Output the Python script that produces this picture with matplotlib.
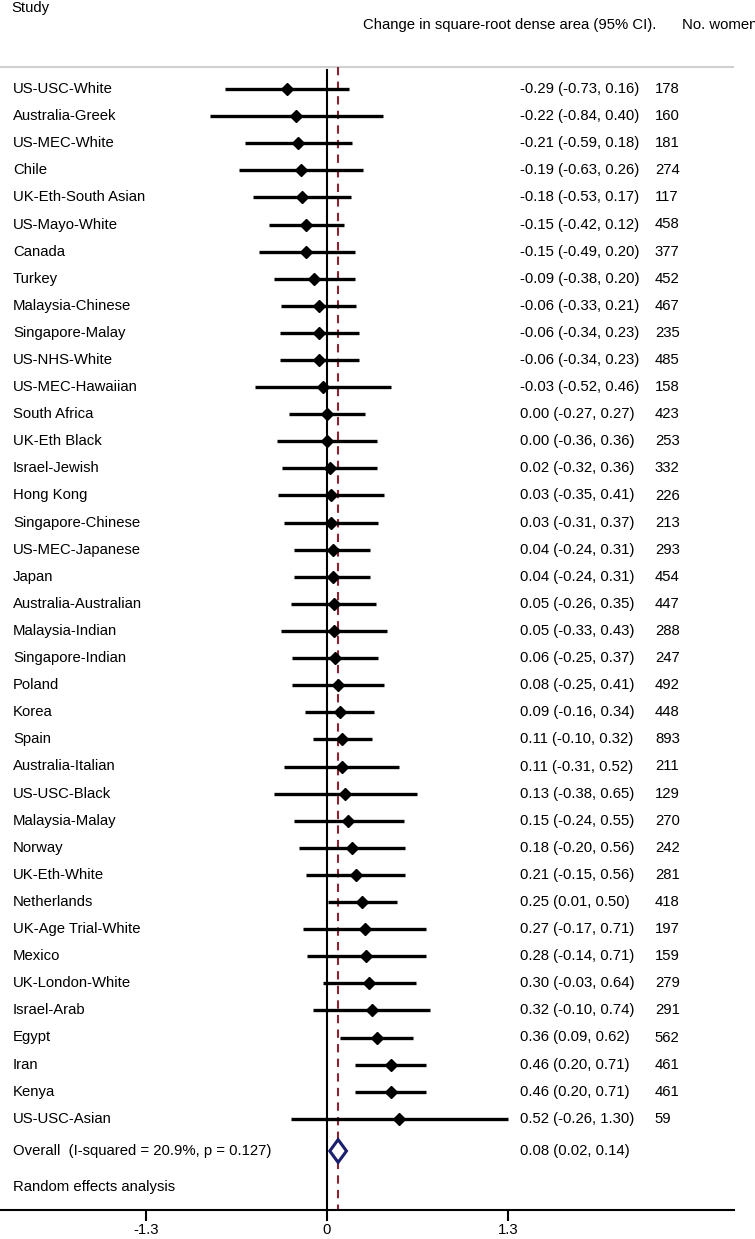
import matplotlib
matplotlib.use("Agg")
import matplotlib.pyplot as plt
from matplotlib.patches import Polygon

plt.rcParams['font.family'] = ['Liberation Sans', 'DejaVu Sans']

studies = ["US-USC-White", "Australia-Greek", "US-MEC-White", "Chile", "UK-Eth-South Asian",
           "US-Mayo-White", "Canada", "Turkey", "Malaysia-Chinese", "Singapore-Malay",
           "US-NHS-White", "US-MEC-Hawaiian", "South Africa", "UK-Eth Black", "Israel-Jewish",
           "Hong Kong", "Singapore-Chinese", "US-MEC-Japanese", "Japan", "Australia-Australian",
           "Malaysia-Indian", "Singapore-Indian", "Poland", "Korea", "Spain",
           "Australia-Italian", "US-USC-Black", "Malaysia-Malay", "Norway", "UK-Eth-White",
           "Netherlands", "UK-Age Trial-White", "Mexico", "UK-London-White", "Israel-Arab",
           "Egypt", "Iran", "Kenya", "US-USC-Asian"]
est = [-0.29, -0.22, -0.21, -0.19, -0.18, -0.15, -0.15, -0.09, -0.06, -0.06,
       -0.06, -0.03, 0.00, 0.00, 0.02, 0.03, 0.03, 0.04, 0.04, 0.05,
       0.05, 0.06, 0.08, 0.09, 0.11, 0.11, 0.13, 0.15, 0.18, 0.21,
       0.25, 0.27, 0.28, 0.30, 0.32, 0.36, 0.46, 0.46, 0.52]
lower = [-0.73, -0.84, -0.59, -0.63, -0.53, -0.42, -0.49, -0.38, -0.33, -0.34,
         -0.34, -0.52, -0.27, -0.36, -0.32, -0.35, -0.31, -0.24, -0.24, -0.26,
         -0.33, -0.25, -0.25, -0.16, -0.10, -0.31, -0.38, -0.24, -0.20, -0.15,
         0.01, -0.17, -0.14, -0.03, -0.10, 0.09, 0.20, 0.20, -0.26]
upper = [0.16, 0.40, 0.18, 0.26, 0.17, 0.12, 0.20, 0.20, 0.21, 0.23,
         0.23, 0.46, 0.27, 0.36, 0.36, 0.41, 0.37, 0.31, 0.31, 0.35,
         0.43, 0.37, 0.41, 0.34, 0.32, 0.52, 0.65, 0.55, 0.56, 0.56,
         0.50, 0.71, 0.71, 0.64, 0.74, 0.62, 0.71, 0.71, 1.30]
n_women = [178, 160, 181, 274, 117, 458, 377, 452, 467, 235,
           485, 158, 423, 253, 332, 226, 213, 293, 454, 447,
           288, 247, 492, 448, 893, 211, 129, 270, 242, 281,
           418, 197, 159, 279, 291, 562, 461, 461, 59]
overall_est, overall_lo, overall_hi = 0.08, 0.02, 0.14
overall_label = "Overall  (I-squared = 20.9%, p = 0.127)"
xticks = [-1.3, 0, 1.3]
xticklabels = ["-1.3", "0", "1.3"]

FS = 10.75
W, H = 755, 1239
fig = plt.figure(figsize=(W / 100, H / 100), dpi=100)
ax_top_px, ax_bot_px = 0, 1210
ax = fig.add_axes([0, 1 - ax_bot_px / H, 734 / W, (ax_bot_px - ax_top_px) / H])

row_px = 27.1
first_px = 89
ylo = (ax_bot_px - first_px) / row_px
yhi = (ax_top_px - first_px) / row_px
ax.set_ylim(ylo, yhi)
xmin, xmax = -2.349, 2.924
ax.set_xlim(xmin, xmax)

y_gray = (67 - first_px) / row_px
y_overall = (1151 - first_px) / row_px
y_random = (1187 - first_px) / row_px

# top gray line
ax.axhline(y_gray, color='#d0d0d0', lw=1.5)
# reference lines
ax.plot([0, 0], [y_gray + 0.1, ylo], color='black', lw=1.5, zorder=2)
ax.plot([overall_est, overall_est], [y_gray, ylo], color='#8b2330', lw=1.5,
        ls=(0, (4, 3)), zorder=2)

x_lab = xmin + 0.093
x_est_col = 1.386
x_n_col = 2.356
for i, s in enumerate(studies):
    ax.plot([lower[i], upper[i]], [i, i], color='black', lw=2.4, solid_capstyle='butt', zorder=3)
    ax.plot(est[i], i, marker='D', color='black', ms=6, zorder=4)
    ax.text(x_lab, i, s, va='center', ha='left', fontsize=FS)
    ax.text(x_est_col, i, f"{est[i]:.2f} ({lower[i]:.2f}, {upper[i]:.2f})",
            va='center', ha='left', fontsize=FS)
    ax.text(x_n_col, i, f"{n_women[i]}", va='center', ha='left', fontsize=FS)

dh = 0.42
diamond = Polygon([[overall_lo, y_overall], [overall_est, y_overall - dh],
                   [overall_hi, y_overall], [overall_est, y_overall + dh]],
                  closed=True, facecolor='white', edgecolor='#1a1f6e', lw=2.2, zorder=5)
ax.add_patch(diamond)
ax.text(x_lab, y_overall, overall_label, va='center', ha='left', fontsize=FS)
ax.text(x_est_col, y_overall, f"{overall_est:.2f} ({overall_lo:.2f}, {overall_hi:.2f})",
        va='center', ha='left', fontsize=FS)
ax.text(x_lab, y_random, "Random effects analysis", va='center', ha='left', fontsize=FS)

# headers
ax.text(xmin + 0.08, (8 - first_px) / row_px, "Study", va='center', ha='left', fontsize=FS)
ax.text(0.259, (25 - first_px) / row_px, "Change in square-root dense area (95% CI).",
        va='center', ha='left', fontsize=FS)
ax.text(2.55, (25 - first_px) / row_px, "No. women", va='center', ha='left', fontsize=FS,
        clip_on=False)

for sp in ['top', 'left', 'right']:
    ax.spines[sp].set_visible(False)
ax.spines['bottom'].set_linewidth(1.5)
ax.set_yticks([])
ax.set_xticks(xticks)
ax.set_xticklabels(xticklabels, fontsize=FS)
ax.tick_params(axis='x', length=8, width=1.5, pad=1.5)

fig.savefig("out.png", dpi=100)
